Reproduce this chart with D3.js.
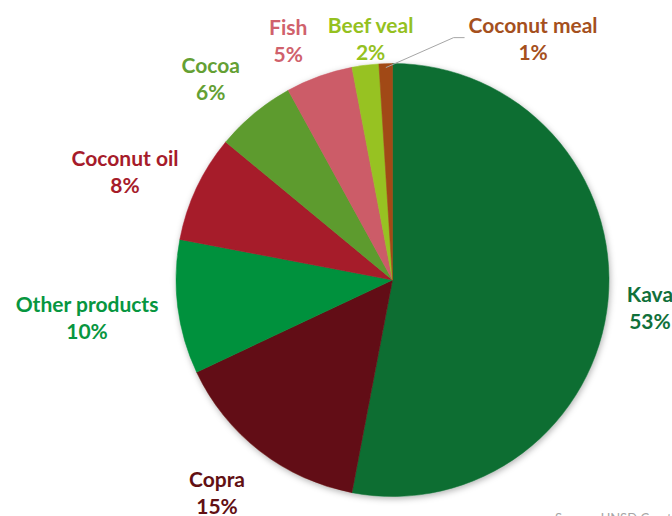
<!DOCTYPE html>
<html>
<head>
<meta charset="utf-8">
<script src="https://cdn.jsdelivr.net/npm/d3@7"></script>
<style>
  html, body { margin: 0; padding: 0; background: #fff; }
  svg { display: block; }
  .lbl { font-family: Lato, "Open Sans", sans-serif; font-weight: bold; font-size: 21px; }
</style>
</head>
<body>
<svg class="pie-svg"></svg>
<script>
// export shares, in percent
const categories = ['Kava', 'Copra', 'Other products', 'Coconut oil', 'Cocoa', 'Fish', 'Beef veal', 'Coconut meal']
const shares = [53, 15, 10, 8, 6, 5, 2, 1]

const sliceColours = ['#0c6e33', '#621013', '#03913d', '#a61b2a', '#5d9b2e', '#cc5b67', '#97c221', '#a14815']
const labelColours = ['#10703a', '#621013', '#07963f', '#a61b2a', '#64a033', '#d0616c', '#95c11f', '#a5501d']

// small nudges so labels sit where the spreadsheet "best fit" put them
const labelNudge = {
  'Kava': [0, 5], 'Copra': [-14, 12], 'Other products': [-1, 7], 'Coconut oil': [-6, 2],
  'Cocoa': [-13, -3], 'Fish': [-18, 2], 'Beef veal': [13, 13], 'Coconut meal': [150, 15]
}

const data = categories.map((name, i) => ({ name, value: shares[i], colour: sliceColours[i], text: labelColours[i] }))

const drawChart = () => {
  const width = 672
  const height = 516
  const cx = 392.5
  const cy = 280
  const radius = 216.5

  const svg = d3.select('.pie-svg')
    .attr('width', width)
    .attr('height', height)

  // soft shadow round the pie, like the office chart
  const filter = svg.append('defs').append('filter')
    .attr('id', 'shadow')
    .attr('x', '-20%').attr('y', '-20%').attr('width', '140%').attr('height', '140%')
  filter.append('feDropShadow')
    .attr('dx', 1).attr('dy', 2)
    .attr('stdDeviation', 3)
    .attr('flood-color', '#000')
    .attr('flood-opacity', 0.3)

  const pie = d3.pie().sort(null).value(d => d.value)
  const arcs = pie(data)

  const arc = d3.arc().innerRadius(0).outerRadius(radius)

  const g = svg.append('g').attr('transform', `translate(${cx},${cy})`)

  g.append('g')
    .attr('filter', 'url(#shadow)')
    .selectAll('path')
    .data(arcs)
    .enter()
    .append('path')
    .attr('d', arc)
    .attr('fill', d => d.data.colour)
    .attr('stroke', d => d.data.colour)
    .attr('stroke-width', 0.5)

  // labels: pushed out along the mid angle, far enough for the text box to clear the pie
  const gap = 19
  const halfH = 20
  const lineGap = 27

  arcs.forEach(d => {
    const mid = (d.startAngle + d.endAngle) / 2
    const sx = Math.sin(mid)
    const sy = -Math.cos(mid)

    const t = g.append('text')
      .attr('class', 'lbl')
      .attr('fill', d.data.text)
      .attr('text-anchor', 'middle')
    const l1 = t.append('tspan').attr('x', 0).text(d.data.name)
    const halfW = l1.node().getComputedTextLength() / 2

    const nudge = labelNudge[d.data.name]
    const lx = (radius + gap + halfW) * sx + nudge[0]
    const ly = (radius + gap + halfH) * sy + nudge[1]

    l1.attr('x', lx).attr('y', ly - 7)
    t.append('tspan').attr('x', lx).attr('y', ly - 7 + lineGap).text(d3.format('.0f')(d.data.value) + '%')

    // the smallest slice gets a leader line
    if (d.data.name === 'Coconut meal') {
      const start = [(radius - 4) * sx, (radius - 4) * sy]
      const endX = lx - halfW - 4
      const lineY = ly - 2
      g.append('polyline')
        .attr('points', [start, [endX - 11, lineY], [endX, lineY]].map(p => p.join(',')).join(' '))
        .attr('fill', 'none')
        .attr('stroke', '#a6a6a6')
        .attr('stroke-width', 1)
    }
  })

  // source note, cut by the bottom edge in the original
  svg.append('text')
    .attr('x', 555)
    .attr('y', 523)
    .attr('fill', '#a6a6a6')
    .style('font-family', 'Lato, sans-serif')
    .style('font-size', '13px')
    .text('Source: UNSD Comtrade')
}

drawChart()
</script>
</body>
</html>
